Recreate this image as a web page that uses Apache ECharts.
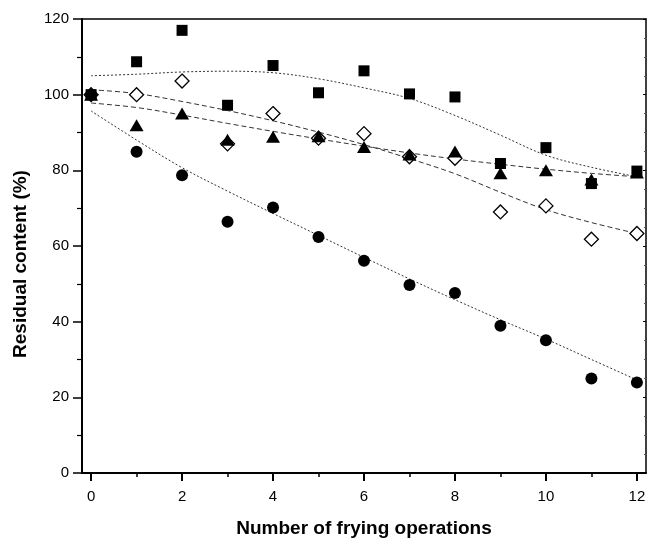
<!DOCTYPE html>
<html>
<head>
<meta charset="utf-8">
<script src="https://cdn.jsdelivr.net/npm/echarts@6/dist/echarts.min.js"></script>
<style>
html,body{margin:0;padding:0;background:#fff;}
#chart{width:649px;height:538px;}
</style>
</head>
<body>
<div id="chart"></div>
<script>
// ---- data ----
const xMajorTicks = [0, 2, 4, 6, 8, 10, 12];
const xMinorTicks = [1, 3, 5, 7, 9, 11];
const xValues = [0, 1, 2, 3, 4, 5, 6, 7, 8, 9, 10, 11, 12];

const squares   = [100, 108.7, 117, 97.2, 107.7, 100.5, 106.3, 100.2, 99.4, 81.8, 86, 76.5, 79.8];
const diamonds  = [100, 100, 103.6, 87, 95, 88.5, 89.7, 83.6, 83.2, 69, 70.6, 61.8, 63.3];
const triangles = [100, 91.9, 95, 88.1, 88.9, 89, 86.2, 84.2, 85, 79.2, 80, 77.6, 79.4];
const circles   = [100, 84.9, 78.7, 66.4, 70.2, 62.4, 56.1, 49.7, 47.6, 38.9, 35.1, 25, 23.9];

// fitted curves (at integer x)
const squareFit   = [105, 105.4, 106, 106.2, 105.8, 104.2, 101.8, 99, 94.5, 89.3, 84, 80.8, 78.3];
const diamondFit  = [101.3, 100.3, 98.2, 95.8, 93.1, 90.1, 86.8, 83.1, 79.1, 74.2, 69.6, 66.2, 63.3];
const triangleFit = [97.8, 96.6, 94.6, 92.4, 90.3, 88.3, 86.4, 84.6, 83.0, 81.6, 80.3, 79.2, 78.3];
const circleFit   = [95.7, 88, 80.7, 74.5, 68.6, 62.8, 57, 51.3, 45.8, 40.5, 35.4, 30, 24.6];

const xTitle = 'Number of frying operations';
const yTitle = 'Residual content (%)';

const pairs = arr => xValues.map((x, i) => [x, arr[i]]);

const chart = echarts.init(document.getElementById('chart'), null, {renderer: 'canvas'});
const ink = '#000';
const fontFam = 'Liberation Sans, Arial, sans-serif';

function fitLine(arr, dash) {
  return {
    type: 'line', data: pairs(arr), smooth: 0.35, symbol: 'none', z: 1,
    lineStyle: {color: '#333', width: 1, type: dash},
    silent: true, animation: false
  };
}
function scatter(arr, symbol, size, filled, z) {
  return {
    type: 'scatter', data: pairs(arr), symbol: symbol, symbolSize: size, z: z,
    itemStyle: filled ? {color: ink, opacity: 1} : {color: '#fff', borderColor: ink, borderWidth: 1.3, opacity: 1},
    animation: false
  };
}

chart.setOption({
  backgroundColor: '#fff',
  animation: false,
  grid: {left: 82, right: 3, top: 19, bottom: 65, containLabel: false, outerBoundsMode: 'none'},
  xAxis: [
    {
      type: 'value', min: -0.2, max: 12.2, position: 'bottom',
      name: xTitle, nameLocation: 'middle', nameGap: 46,
      nameTextStyle: {fontFamily: fontFam, fontWeight: 'bold', fontSize: 19, color: ink},
      axisLine: {show: true, onZero: false, lineStyle: {color: ink, width: 2}},
      axisTick: {show: true, inside: false, length: 8, customValues: xMajorTicks, lineStyle: {color: ink, width: 2}},
      axisLabel: {show: true, customValues: xMajorTicks, margin: 16, fontFamily: fontFam, fontSize: 15, color: ink},
      splitLine: {show: false}
    },
    {
      type: 'value', min: -0.2, max: 12.2, position: 'bottom',
      axisLine: {show: false},
      axisTick: {show: true, inside: false, length: 4, customValues: xMinorTicks, lineStyle: {color: ink, width: 1.5}},
      axisLabel: {show: false},
      splitLine: {show: false}
    },
    {
      type: 'value', min: -0.2, max: 12.2, position: 'top',
      axisLine: {show: true, onZero: false, lineStyle: {color: ink, width: 1.5}},
      axisTick: {show: false}, axisLabel: {show: false}, splitLine: {show: false}
    }
  ],
  yAxis: [
    {
      type: 'value', min: 0, max: 120, interval: 20, position: 'left',
      name: yTitle, nameLocation: 'middle', nameGap: 52,
      nameTextStyle: {fontFamily: fontFam, fontWeight: 'bold', fontSize: 19, color: ink, padding: [0, 36, 0, 0]},
      axisLine: {show: true, onZero: false, lineStyle: {color: ink, width: 2}},
      axisTick: {show: true, inside: false, length: 9, lineStyle: {color: ink, width: 1.5}},
      minorTick: {show: true, splitNumber: 2, length: 5, lineStyle: {color: ink, width: 1.2}},
      axisLabel: {margin: 13, fontFamily: fontFam, fontSize: 15, color: ink},
      splitLine: {show: false}
    },
    {
      type: 'value', min: 0, max: 120, interval: 20, position: 'right',
      axisLine: {show: true, onZero: false, lineStyle: {color: ink, width: 1.5}},
      axisTick: {show: true, inside: true, length: 3, lineStyle: {color: ink, width: 1}},
      minorTick: {show: true, splitNumber: 4, length: 2, lineStyle: {color: '#555', width: 1}},
      axisLabel: {show: false}, splitLine: {show: false}
    }
  ],
  series: [
    fitLine(squareFit, [2, 2]),
    fitLine(diamondFit, [5, 3]),
    fitLine(triangleFit, [5, 3]),
    fitLine(circleFit, [2, 2]),
    scatter(diamonds, 'diamond', 14, false, 3),
    scatter(triangles, 'triangle', [14, 12], true, 4),
    scatter(squares, 'rect', 11, true, 5),
    scatter(circles, 'circle', 12, true, 6)
  ]
});
</script>
</body>
</html>
